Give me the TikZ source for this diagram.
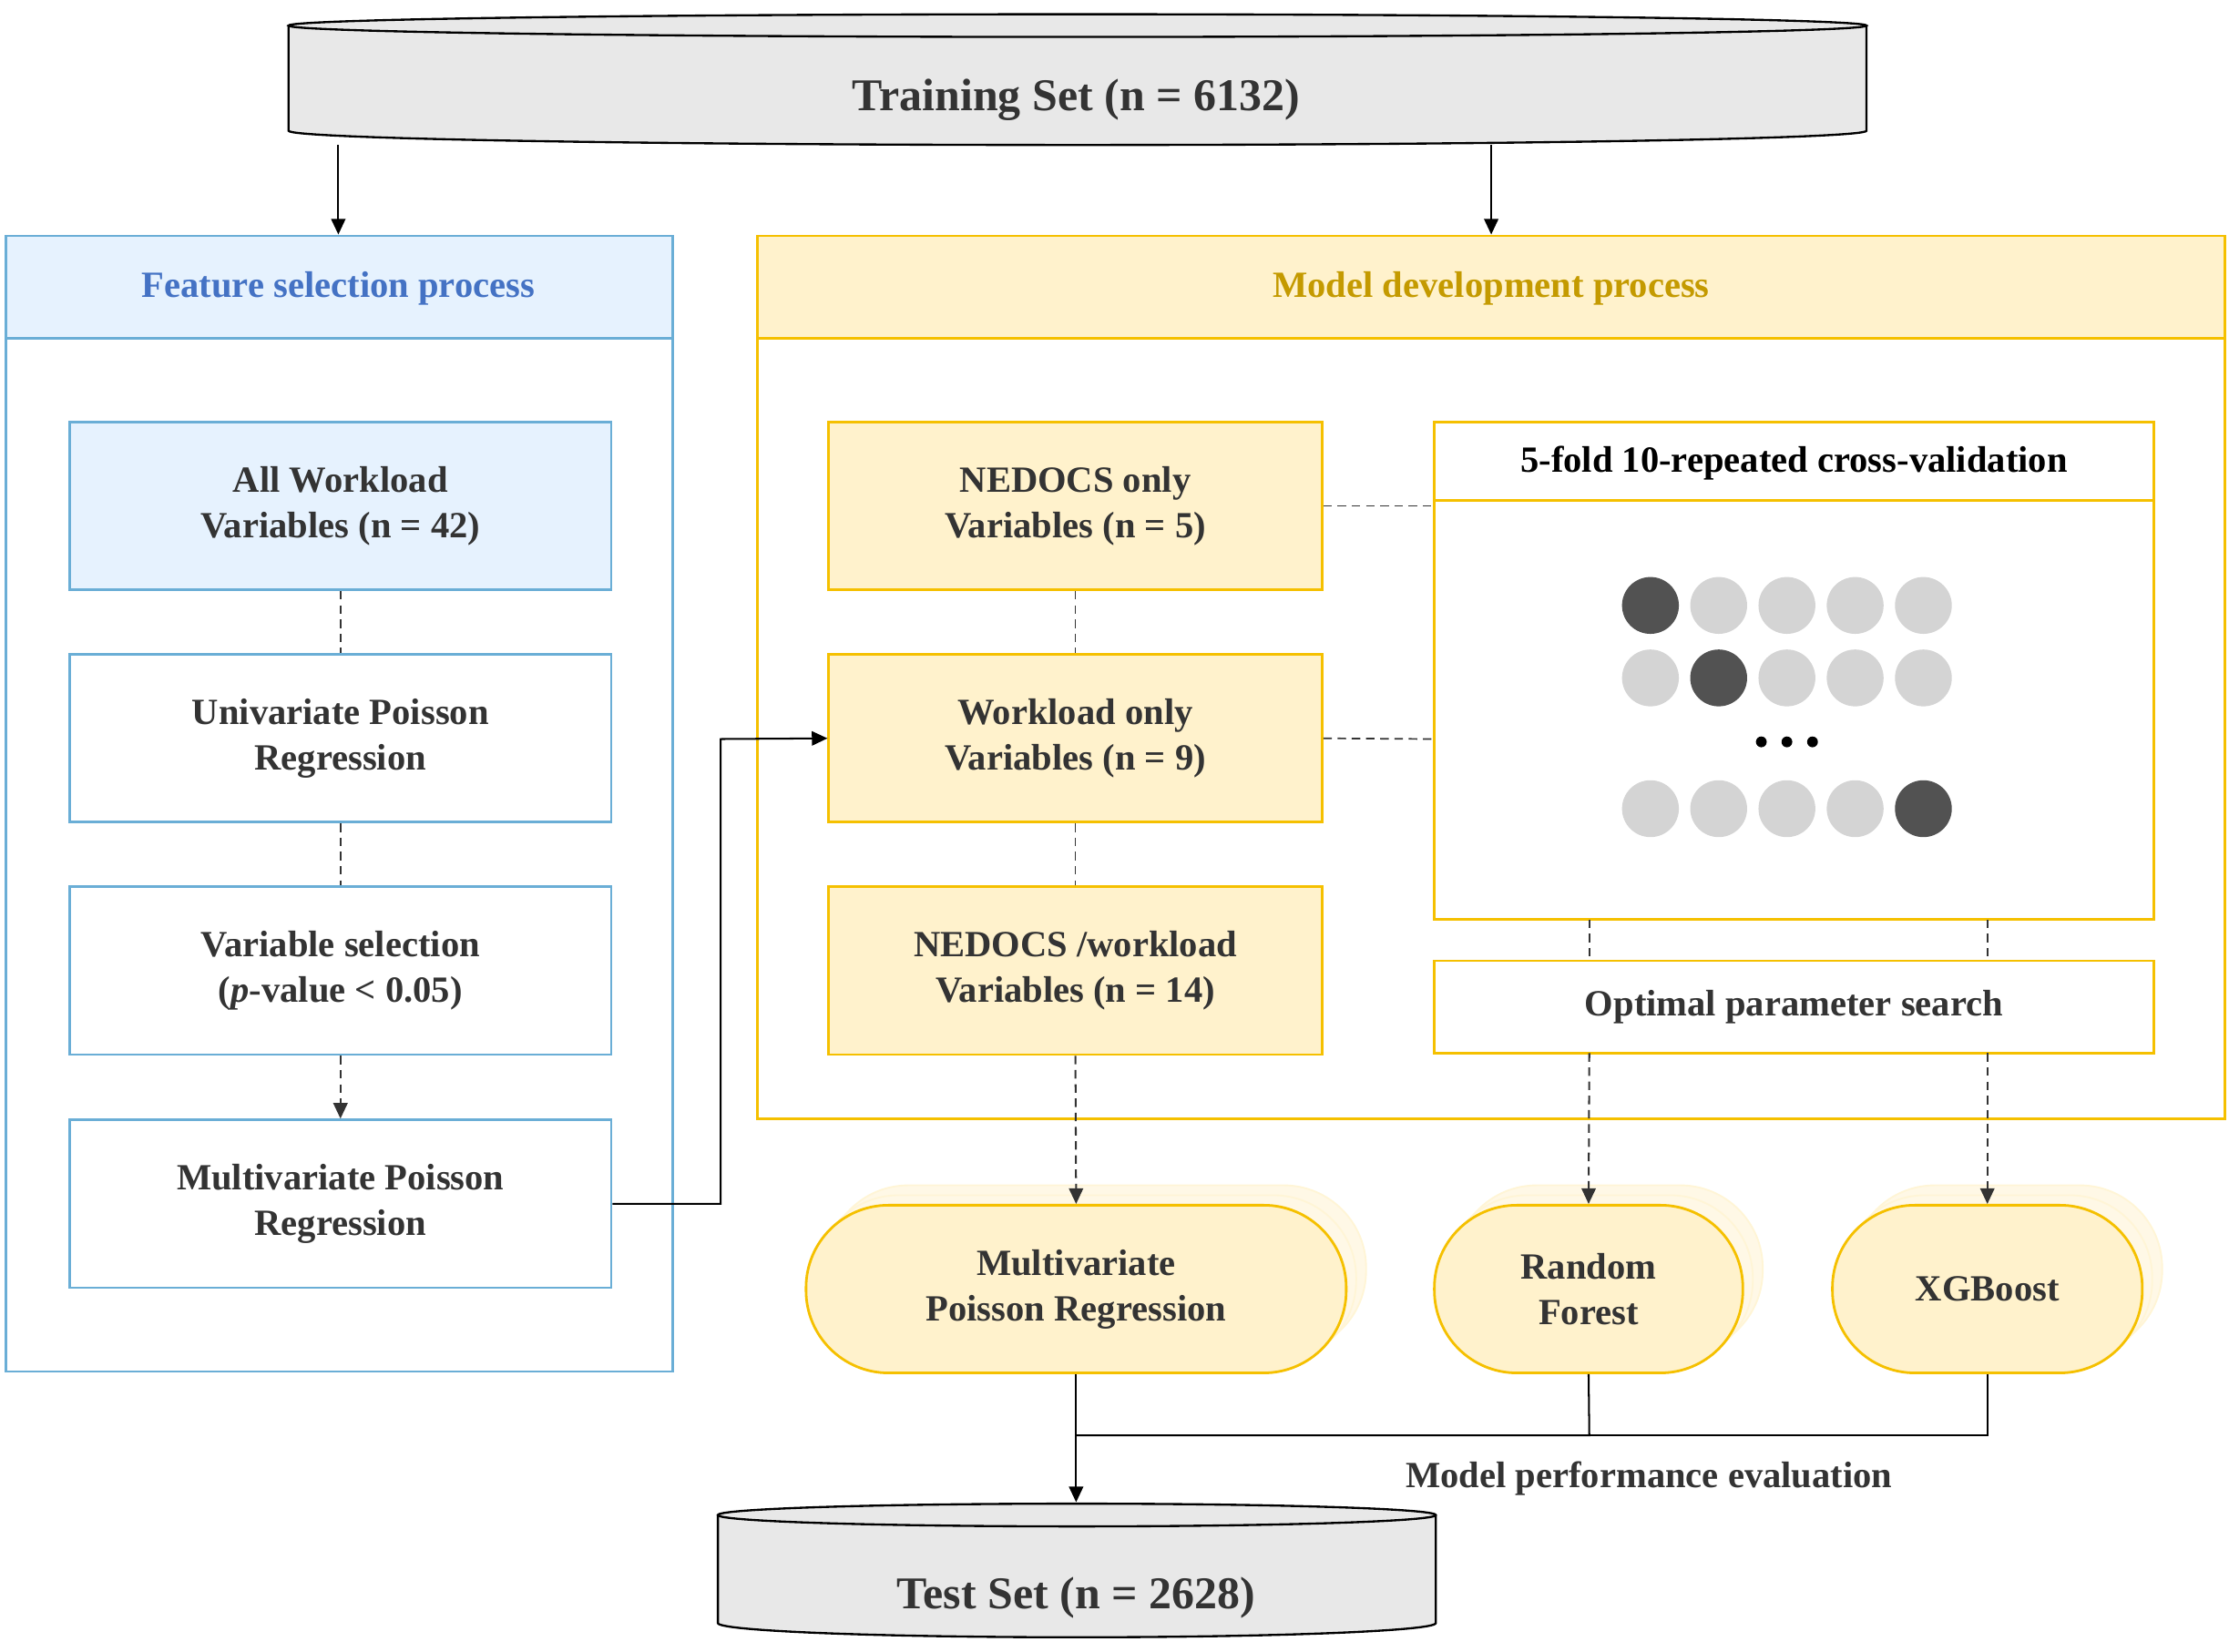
\documentclass[tikz,border=0pt]{standalone}
\usepackage{fontspec}
\setmainfont{Liberation Serif}
\usetikzlibrary{arrows.meta}
\definecolor{txt}{HTML}{333333}
\definecolor{bl}{HTML}{6AAED6}
\definecolor{blf}{HTML}{E6F2FE}
\definecolor{blt}{HTML}{4472C4}
\definecolor{yl}{HTML}{F5C000}
\definecolor{ylf}{HTML}{FFF2CC}
\definecolor{ylt}{HTML}{C49A00}
\definecolor{cyl}{HTML}{E8E8E8}
\begin{document}
\begin{tikzpicture}[x=1pt,y=-1pt,
  font=\fontsize{26}{32}\selectfont\bfseries, text=txt,
  bbox/.style={draw=bl,line width=1.8pt,minimum width=381pt,minimum height=118pt,align=center,inner sep=0pt},
  ybox/.style={draw=yl,fill=ylf,line width=1.8pt,minimum width=347pt,minimum height=118pt,align=center,inner sep=0pt},
  pill/.style={draw=yl,fill=ylf,line width=1.8pt,rounded corners=58pt,minimum height=118pt,align=center},
  shad/.style={draw=ylf!80!white,fill=ylf!50!white,line width=1.2pt,rounded corners=58pt,minimum height=118pt},
  dl/.style={dash pattern=on 6pt off 4pt,line width=1.1pt,draw=txt},
  ar/.style={-{Triangle[length=11pt,width=10pt]},line width=1.3pt},
  dot/.style={circle,minimum size=40pt,inner sep=0pt,fill=#1}]
\useasboundingbox (0,0) rectangle (1568,1162);
% Training set cylinder
\draw[fill=cyl,line width=1.5pt] (203,18) -- (203,92) arc[start angle=180,end angle=0,x radius=555,y radius=10] -- (1313,18);
\draw[fill=cyl,line width=1.5pt] (758,18) ellipse[x radius=555,y radius=8];
\node[font=\fontsize{32}{38}\selectfont\bfseries] (train) at (757,70) {Training Set (n = 6132)};
\coordinate (t1) at (238,102); \coordinate (t2) at (1049,102);
% Feature selection
\draw[draw=bl,line width=1.8pt] (4,166) rectangle (473,965);
\draw[draw=bl,fill=blf,line width=1.8pt] (4,166) rectangle (473,238);
\node[text=blt] (fsp) at (238,203) {Feature selection process};
\node[bbox,fill=blf] (a1) at (239.5,356) {All Workload\\Variables (n = 42)};
\node[bbox,fill=white] (a2) at (239.5,519.5) {Univariate Poisson\\Regression};
\node[bbox,fill=white] (a3) at (239.5,683) {Variable selection\\(\textit{p}-value < 0.05)};
\node[bbox,fill=white] (a4) at (239.5,847) {Multivariate Poisson\\Regression};
\draw[dl] (a1) -- (a2); \draw[dl] (a2) -- (a3);
\draw[dl,ar] (a3) -- (a4);
\draw[ar] (t1) -- (238,165);
\draw[ar] (t2) -- (1049,165);
% Model development
\draw[draw=yl,line width=1.8pt] (533,166) rectangle (1565,787);
\draw[draw=yl,fill=ylf,line width=1.8pt] (533,166) rectangle (1565,238);
\node[text=ylt] (mdp) at (1049,203) {Model development process};
\node[ybox] (b1) at (756.5,356) {NEDOCS only\\Variables (n = 5)};
\node[ybox] (b2) at (756.5,519.5) {Workload only\\Variables (n = 9)};
\node[ybox] (b3) at (756.5,683) {NEDOCS /workload\\Variables (n = 14)};
\draw[dl] (b1) -- (b2); \draw[dl] (b2) -- (b3);
\draw[ar] (a4.east) -- (507,847) -- (507,520) -- (b2.west);
% CV
\draw[draw=yl,line width=1.8pt] (1009,297) rectangle (1515,647);
\draw[draw=yl,line width=1.8pt] (1009,297) rectangle (1515,352);
\node[text=black] (cv) at (1262,326) {5-fold 10-repeated cross-validation};
\foreach \r/\y/\d in {1/426/1,2/477/2,3/569/5}{
  \foreach \c in {1,...,5}{
    \pgfmathsetmacro\xx{1161+48*(\c-1)}
    \ifnum\c=\d \node[dot=black!68] (d\r\c) at (\xx,\y) {};
    \else \node[dot=black!17] (d\r\c) at (\xx,\y) {}; \fi
  }}
\foreach \x in {1239,1257,1275} \fill[black] (\x,522) circle (3.8pt);
\draw[dl] (b1.east) -- (1009,356);
\draw[dl] (b2.east) -- (1009,520);
\node[draw=yl,line width=1.8pt,minimum width=506pt,minimum height=65pt,inner sep=0pt] (ops) at (1262,708.5) {Optimal parameter search};
\draw[dl] (1118,647) -- (1118,676);
\draw[dl] (1398,647) -- (1398,676);
% pills
\foreach \dx in {14,7}{
  \node[shad,minimum width=380pt] at (757+\dx,907-\dx) {};
  \node[shad,minimum width=217pt] at (1117.5+\dx,907-\dx) {};
  \node[shad,minimum width=218pt] at (1398+\dx,907-\dx) {};}
\node[pill,minimum width=380pt] (p1) at (757,907) {Multivariate\\Poisson Regression};
\node[pill,minimum width=217pt] (p2) at (1117.5,907) {Random\\Forest};
\node[pill,minimum width=218pt] (p3) at (1398,907) {XGBoost};
\draw[dl,ar] (b3.south) -- (p1.north);
\draw[dl,ar] (1118,741) -- (p2.north);
\draw[dl,ar] (1398,741) -- (p3.north);
% test set
\draw[fill=cyl,line width=1.5pt] (505,1066) -- (505,1142) arc[start angle=180,end angle=0,x radius=252.5,y radius=10] -- (1010,1066);
\draw[fill=cyl,line width=1.5pt] (757.5,1066) ellipse[x radius=252.5,y radius=8];
\node[font=\fontsize{32}{38}\selectfont\bfseries] (test) at (757,1124) {Test Set (n = 2628)};
\coordinate (tt) at (757,1057);
\draw[line width=1.3pt] (p2.south) -- (1118,1010) -- (757,1010);
\draw[line width=1.3pt] (p3.south) -- (1398,1010) -- (1118,1010);
\draw[ar] (p1.south) -- (tt);
\node (mpe) at (1160,1040) {Model performance evaluation};
\end{tikzpicture}
\end{document}
